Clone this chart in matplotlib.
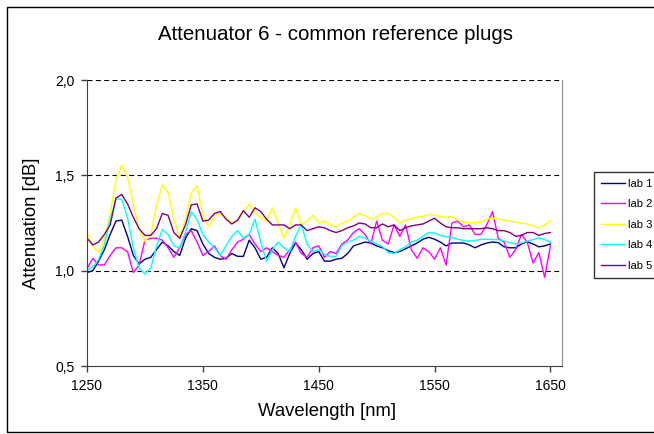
import numpy as np
import matplotlib
matplotlib.use("Agg")
import matplotlib.pyplot as plt
from matplotlib.patches import Rectangle

plt.rcParams['font.family'] = ['Liberation Sans', 'DejaVu Sans']

# readings every 5 nm, 1250 .. 1650
wavelength = np.arange(1250, 1651, 5)

lab1 = [0.99, 1.00, 1.05, 1.11, 1.19, 1.26, 1.265, 1.18, 1.08, 1.035,
        1.06, 1.07, 1.11, 1.15, 1.13, 1.10, 1.08, 1.17, 1.22, 1.21,
        1.14, 1.09, 1.07, 1.06, 1.065, 1.09, 1.075, 1.075, 1.16, 1.12,
        1.06, 1.07, 1.12, 1.09, 1.015, 1.09, 1.145, 1.11, 1.06, 1.09,
        1.10, 1.05, 1.05, 1.06, 1.065, 1.09, 1.13, 1.14, 1.15, 1.145,
        1.13, 1.12, 1.105, 1.095, 1.10, 1.115, 1.13, 1.145, 1.165, 1.175,
        1.165, 1.15, 1.13, 1.145, 1.145, 1.145, 1.135, 1.12, 1.135, 1.145,
        1.15, 1.147, 1.125, 1.12, 1.12, 1.14, 1.152, 1.14, 1.125, 1.13,
        1.14]
lab2 = [1.01, 1.065, 1.03, 1.03, 1.08, 1.12, 1.12, 1.10, 0.99, 1.03,
        1.16, 1.17, 1.17, 1.16, 1.12, 1.07, 1.12, 1.19, 1.21, 1.15,
        1.08, 1.10, 1.13, 1.08, 1.06, 1.11, 1.15, 1.165, 1.19, 1.14,
        1.10, 1.12, 1.10, 1.08, 1.07, 1.11, 1.15, 1.09, 1.07, 1.12,
        1.13, 1.07, 1.10, 1.09, 1.14, 1.16, 1.20, 1.22, 1.19, 1.14,
        1.26, 1.16, 1.14, 1.24, 1.18, 1.24, 1.11, 1.065, 1.12, 1.10,
        1.06, 1.12, 1.03, 1.25, 1.26, 1.23, 1.24, 1.19, 1.19, 1.24,
        1.31, 1.17, 1.15, 1.07, 1.11, 1.19, 1.15, 1.04, 1.095, 0.965,
        1.13]
lab3 = [1.20, 1.128, 1.096, 1.163, 1.30, 1.48, 1.553, 1.49, 1.35, 1.216,
        1.154, 1.19, 1.34, 1.45, 1.41, 1.27, 1.17, 1.27, 1.41, 1.445,
        1.29, 1.23, 1.29, 1.30, 1.28, 1.25, 1.26, 1.31, 1.35, 1.30,
        1.28, 1.26, 1.33, 1.25, 1.17, 1.24, 1.33, 1.24, 1.26, 1.29,
        1.25, 1.26, 1.24, 1.23, 1.25, 1.26, 1.28, 1.30, 1.29, 1.27,
        1.28, 1.30, 1.30, 1.28, 1.25, 1.265, 1.275, 1.28, 1.285, 1.295,
        1.29, 1.285, 1.28, 1.285, 1.265, 1.255, 1.25, 1.25, 1.255, 1.27,
        1.275, 1.27, 1.265, 1.26, 1.255, 1.25, 1.245, 1.235, 1.225, 1.24,
        1.26]
lab4 = [1.00, 1.02, 1.058, 1.137, 1.268, 1.377, 1.374, 1.277, 1.12, 1.014,
        0.982, 1.014, 1.128, 1.216, 1.19, 1.13, 1.12, 1.20, 1.31, 1.268,
        1.19, 1.15, 1.12, 1.08, 1.13, 1.18, 1.21, 1.17, 1.19, 1.27,
        1.15, 1.05, 1.11, 1.15, 1.12, 1.10, 1.18, 1.24, 1.14, 1.10,
        1.11, 1.085, 1.075, 1.075, 1.13, 1.15, 1.16, 1.18, 1.17, 1.155,
        1.14, 1.125, 1.095, 1.09, 1.11, 1.125, 1.15, 1.16, 1.18, 1.20,
        1.198, 1.185, 1.178, 1.175, 1.165, 1.158, 1.155, 1.158, 1.165, 1.165,
        1.163, 1.163, 1.155, 1.147, 1.14, 1.145, 1.155, 1.163, 1.172, 1.163,
        1.15]
lab5 = [1.17, 1.135, 1.15, 1.19, 1.24, 1.38, 1.40, 1.35, 1.28, 1.22,
        1.185, 1.185, 1.22, 1.30, 1.29, 1.20, 1.17, 1.24, 1.345, 1.35,
        1.26, 1.265, 1.30, 1.31, 1.27, 1.245, 1.265, 1.315, 1.28, 1.33,
        1.31, 1.27, 1.24, 1.24, 1.24, 1.22, 1.24, 1.24, 1.21, 1.22,
        1.23, 1.225, 1.21, 1.20, 1.21, 1.225, 1.235, 1.25, 1.245, 1.225,
        1.225, 1.245, 1.23, 1.24, 1.21, 1.225, 1.235, 1.24, 1.245, 1.26,
        1.275, 1.25, 1.23, 1.225, 1.225, 1.22, 1.22, 1.22, 1.22, 1.225,
        1.22, 1.21, 1.21, 1.20, 1.18, 1.185, 1.20, 1.20, 1.185, 1.195,
        1.20]

series = [lab1, lab2, lab3, lab4, lab5]
labels = ["lab 1", "lab 2", "lab 3", "lab 4", "lab 5"]
colors = ["#000080", "#FF00FF", "#FFFF00", "#00FFFF", "#800080"]

xticks = [1250, 1350, 1450, 1550, 1650]
yticks = [0.5, 1.0, 1.5, 2.0]
ytick_labels = ["0,5", "1,0", "1,5", "2,0"]

W, H = 654, 434
fig = plt.figure(figsize=(W / 100, H / 100), dpi=100)

# outer chart frame (runs off the right edge like the source)
fig.patches.append(Rectangle((7 / W, 1 - 432 / H), 2.0, (432 - 7) / H,
                             transform=fig.transFigure, fill=False,
                             edgecolor="black", linewidth=1.0))

ax = fig.add_axes([87 / W, 1 - 366 / H, (562 - 87) / W, (366 - 80) / H])

for y in [1.0, 1.5, 2.0]:
    ax.axhline(y, color="black", linewidth=0.8, linestyle=(0, (4.5, 3.0)), zorder=1)

for vals, lab, c in zip(series, labels, colors):
    ax.plot(wavelength, vals, color=c, linewidth=1.0, label=lab, zorder=2)

ax.set_xlim(1250, 1660)
ax.set_ylim(0.5, 2.0)
ax.set_xticks(xticks)
ax.set_yticks(yticks)
ax.set_yticklabels(ytick_labels)
ax.tick_params(direction="out", length=4, width=1, color="#404040",
               labelsize=10, pad=5)

ax.spines["top"].set_visible(False)
ax.spines["right"].set_color("#909090")
ax.spines["left"].set_color("#404040")
ax.spines["bottom"].set_color("#404040")

fig.text(335 / W, 1 - 35 / H, "Attenuator 6 - common reference plugs",
         ha="center", va="center", fontsize=14.8)
fig.text(327 / W, 1 - 412 / H, "Wavelength [nm]", ha="center", va="center",
         fontsize=13.3)
fig.text(32 / W, 1 - 223 / H, "Attenuation [dB]", ha="center", va="center",
         rotation=90, fontsize=13.3)

fig.legend(loc="upper left", bbox_to_anchor=(594 / W, 1 - 172 / H),
           frameon=True, fancybox=False, edgecolor="black", fontsize=8,
           handlelength=2.2, handletextpad=0.3, labelspacing=0.95,
           borderpad=0.6, borderaxespad=0)

fig.savefig("out.png", dpi=100)
